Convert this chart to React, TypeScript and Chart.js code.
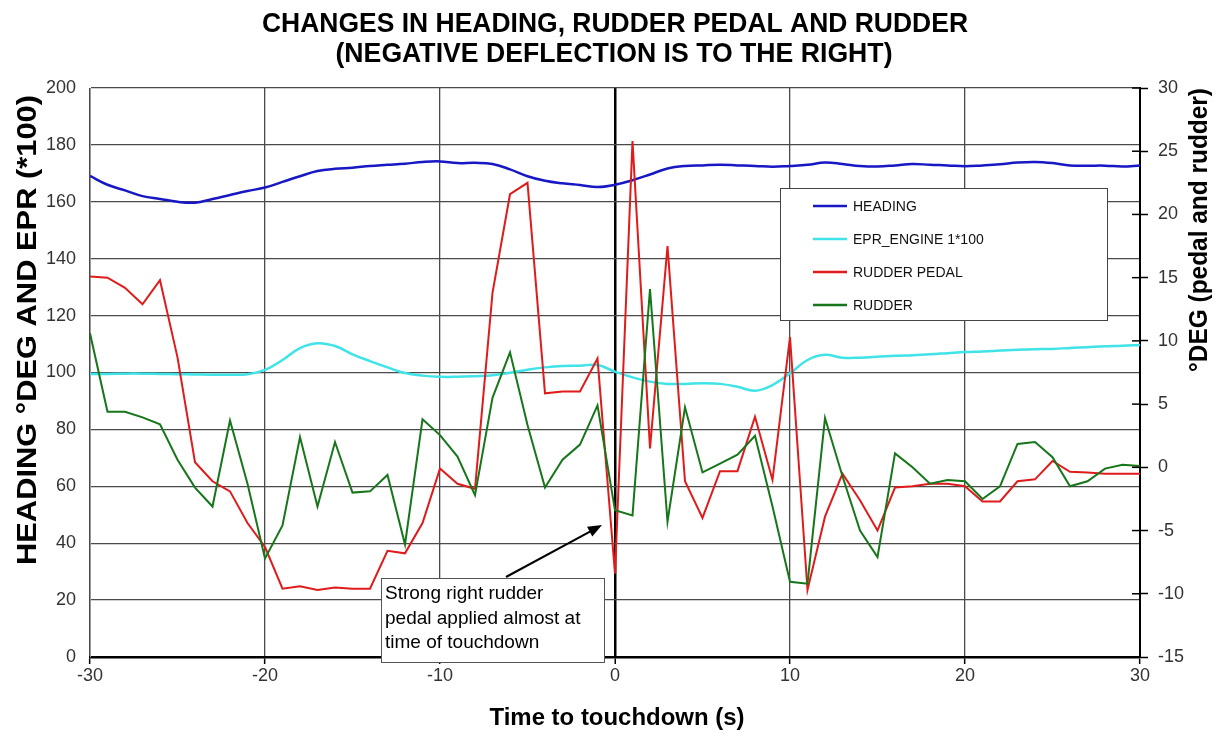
import { useEffect, useRef } from "react";
import { Chart, registerables } from "chart.js";

Chart.register(...registerables);

const seconds = [
  -30, -29, -28, -27, -26, -25, -24, -23, -22, -21, -20, -19, -18, -17, -16, -15,
  -14, -13, -12, -11, -10, -9, -8, -7, -6, -5, -4, -3, -2, -1, 0, 1, 2, 3, 4, 5,
  6, 7, 8, 9, 10, 11, 12, 13, 14, 15, 16, 17, 18, 19, 20, 21, 22, 23, 24, 25, 26,
  27, 28, 29, 30,
];

const heading = [
  169.1, 166, 164, 162, 161, 160, 159.7, 161, 162.4, 163.8, 165, 167, 169, 170.8,
  171.6, 172, 172.6, 173, 173.4, 174, 174.2, 173.6, 173.7, 173.3, 171.4, 169,
  167.4, 166.5, 165.9, 165.2, 166, 167.6, 169.6, 171.7, 172.6, 172.8, 173, 172.8,
  172.6, 172.3, 172.6, 173, 173.8, 173.3, 172.6, 172.4, 172.8, 173.3, 173, 172.8,
  172.5, 172.8, 173.2, 173.8, 174, 173.6, 172.8, 172.7, 172.7, 172.4, 172.8,
];

const eprEngine1 = [
  99.5, 99.5, 99.6, 99.6, 99.5, 99.4, 99.3, 99.2, 99.2, 99.4, 100.9, 104.4, 108.6,
  110.3, 109.3, 106.4, 104, 101.8, 99.8, 98.9, 98.5, 98.5, 98.7, 99, 99.9, 101,
  101.8, 102.3, 102.4, 102.6, 100.3, 98.3, 96.8, 96, 96, 96.2, 96, 95, 93.6, 95.6,
  99.7, 104.4, 106.2, 105.2, 105.2, 105.5, 105.9, 106.1, 106.4, 106.8, 107.2,
  107.4, 107.7, 108, 108.2, 108.3, 108.6, 108.9, 109.2, 109.4, 109.7,
];

const rudderPedal = [
  15.1, 15.0, 14.2, 12.9, 14.8, 8.7, 0.4, -1.1, -1.9, -4.4, -6.3, -9.6, -9.4, -9.7,
  -9.5, -9.6, -9.6, -6.6, -6.8, -4.4, -0.1, -1.3, -1.7, 13.8, 21.6, 22.5, 5.85,
  6.0, 6.0, 8.6, -8.4, 25.8, 1.5, 17.5, -1.1, -4.0, -0.3, -0.3, 4.0, -1.0, 10.3,
  -9.7, -3.9, -0.5, -2.6, -5.0, -1.6, -1.5, -1.3, -1.3, -1.5, -2.7, -2.7, -1.1,
  -0.95, 0.5, -0.35, -0.4, -0.5, -0.5, -0.5,
];

const rudder = [
  10.6, 4.4, 4.4, 3.95, 3.4, 0.6, -1.6, -3.1, 3.7, -1.3, -7.2, -4.6, 2.4, -3.1,
  2.0, -2.0, -1.9, -0.6, -6.1, 3.8, 2.55, 0.85, -2.2, 5.5, 9.1, 3.35, -1.6, 0.6,
  1.8, 4.9, -3.4, -3.8, 14.1, -4.3, 4.75, -0.4, 0.3, 1.0, 2.5, -3.1, -9.05, -9.2,
  3.9, -0.7, -5.0, -7.1, 1.1, 0, -1.3, -1.0, -1.1, -2.5, -1.5, 1.85, 2.0, 0.8,
  -1.5, -1.1, -0.1, 0.2, 0.1,
];

const seriesLabels = ["HEADING", "EPR_ENGINE 1*100", "RUDDER PEDAL", "RUDDER"];
const seriesColors = ["#1717C4", "#3FE3E8", "#E01B1B", "#16761A"];

const titleLines = [
  "CHANGES IN HEADING, RUDDER PEDAL AND RUDDER",
  "(NEGATIVE DEFLECTION IS TO THE RIGHT)",
];
const xAxisTitle = "Time to touchdown (s)";
const yLeftTitle = "HEADING \u00B0DEG AND EPR (*100)";
const yRightTitle = "\u00B0DEG (pedal and rudder)";
const noteLines = ["Strong right rudder", "pedal applied almost at", "time of touchdown"];

const FONT = "'Liberation Sans', Arial, Helvetica, sans-serif";

function fittedText(
  ctx: CanvasRenderingContext2D,
  text: string,
  cx: number,
  cy: number,
  width: number,
  font: string,
  rotation: number
) {
  ctx.save();
  ctx.translate(cx, cy);
  ctx.rotate(rotation);
  ctx.font = font;
  const w = ctx.measureText(text).width;
  ctx.scale(width / w, 1);
  ctx.textAlign = "center";
  ctx.textBaseline = "middle";
  ctx.fillStyle = "#000";
  ctx.fillText(text, 0, 0);
  ctx.restore();
}

const decorPlugin = {
  id: "decor",
  afterDraw(chart: any) {
    const ctx: CanvasRenderingContext2D = chart.ctx;
    const area = chart.chartArea;
    const y2 = chart.scales.y2;

    // inner half of right-axis ticks
    ctx.save();
    ctx.strokeStyle = "#000";
    ctx.lineWidth = 1.5;
    y2.ticks.forEach((t: any) => {
      const py = y2.getPixelForValue(t.value);
      ctx.beginPath();
      ctx.moveTo(area.right - 8, py);
      ctx.lineTo(area.right, py);
      ctx.stroke();
    });
    ctx.restore();

    // titles
    fittedText(ctx, titleLines[0], 615, 24, 706, `bold 28px ${FONT}`, 0);
    fittedText(ctx, titleLines[1], 614, 54, 557, `bold 28px ${FONT}`, 0);
    fittedText(ctx, xAxisTitle, 617, 718, 255, `bold 24px ${FONT}`, 0);
    fittedText(ctx, yLeftTitle, 29, 330, 470, `bold 27px ${FONT}`, -Math.PI / 2);
    fittedText(ctx, yRightTitle, 1200, 230, 284, `bold 25px ${FONT}`, -Math.PI / 2);

    // legend
    ctx.save();
    ctx.fillStyle = "#fff";
    ctx.fillRect(780, 188, 327, 132);
    ctx.strokeStyle = "#444";
    ctx.lineWidth = 1;
    ctx.strokeRect(780.5, 188.5, 327, 132);
    ctx.font = `14px ${FONT}`;
    ctx.textBaseline = "middle";
    ctx.textAlign = "left";
    const rows = [206, 239, 272, 305];
    chart.data.datasets.forEach((ds: any, i: number) => {
      ctx.strokeStyle = ds.borderColor;
      ctx.lineWidth = 2.5;
      ctx.beginPath();
      ctx.moveTo(813, rows[i]);
      ctx.lineTo(847, rows[i]);
      ctx.stroke();
      ctx.fillStyle = "#111";
      ctx.fillText(ds.label, 853, rows[i] + 1);
    });
    ctx.restore();

    // annotation
    ctx.save();
    ctx.fillStyle = "#fff";
    ctx.fillRect(381, 578, 223, 84);
    ctx.strokeStyle = "#555";
    ctx.lineWidth = 1;
    ctx.strokeRect(381.5, 578.5, 223, 84);
    ctx.fillStyle = "#000";
    ctx.font = `19px ${FONT}`;
    ctx.textAlign = "left";
    ctx.textBaseline = "middle";
    noteLines.forEach((l, i) => ctx.fillText(l, 385, 594 + i * 24.5));
    // arrow
    const sx = 506, sy = 577, ex = 602, ey = 525;
    const ang = Math.atan2(ey - sy, ex - sx);
    ctx.strokeStyle = "#000";
    ctx.lineWidth = 2;
    ctx.beginPath();
    ctx.moveTo(sx, sy);
    ctx.lineTo(ex - 10 * Math.cos(ang), ey - 10 * Math.sin(ang));
    ctx.stroke();
    ctx.beginPath();
    ctx.moveTo(ex, ey);
    ctx.lineTo(ex - 14 * Math.cos(ang) + 5.5 * Math.sin(ang), ey - 14 * Math.sin(ang) - 5.5 * Math.cos(ang));
    ctx.lineTo(ex - 14 * Math.cos(ang) - 5.5 * Math.sin(ang), ey - 14 * Math.sin(ang) + 5.5 * Math.cos(ang));
    ctx.closePath();
    ctx.fill();
    ctx.restore();
  },
};

export default function App() {
  const ref = useRef<HTMLCanvasElement>(null);

  useEffect(() => {
    if (!ref.current) return;
    const pts = (arr: number[]) => seconds.map((x, i) => ({ x, y: arr[i] }));
    const chart = new Chart(ref.current, {
      type: "line",
      data: {
        datasets: [
          { label: seriesLabels[0], data: pts(heading), borderColor: seriesColors[0], borderWidth: 2.5, pointRadius: 0, tension: 0.4, yAxisID: "y", order: 4 },
          { label: seriesLabels[1], data: pts(eprEngine1), borderColor: seriesColors[1], borderWidth: 2.5, pointRadius: 0, tension: 0.4, yAxisID: "y", order: 3 },
          { label: seriesLabels[2], data: pts(rudderPedal), borderColor: seriesColors[2], borderWidth: 2, pointRadius: 0, tension: 0, yAxisID: "y2", order: 2 },
          { label: seriesLabels[3], data: pts(rudder), borderColor: seriesColors[3], borderWidth: 2, pointRadius: 0, tension: 0, yAxisID: "y2", order: 1 },
        ],
      },
      options: {
        responsive: false,
        animation: false,
        devicePixelRatio: 1,
        layout: { padding: { top: 88, left: 0, right: 0, bottom: 0 } },
        plugins: { legend: { display: false }, tooltip: { enabled: false }, title: { display: false } },
        scales: {
          x: {
            type: "linear",
            min: -30,
            max: 30,
            position: "bottom",
            afterFit: (s: any) => { s.height = 79; },
            ticks: { stepSize: 10, font: { size: 18, family: FONT }, color: "#333", padding: 1 },
            grid: {
              color: (c: any) => (c.tick && c.tick.value === 0 ? "#000" : "#4a4a4a"),
              lineWidth: (c: any) => (c.tick && c.tick.value === 0 ? 2.5 : 1.3),
              tickLength: 7,
              tickColor: "#000",
              tickWidth: 1.5,
            },
            border: { color: "#000", width: 2.5 },
          },
          y: {
            position: "left",
            min: 0,
            max: 200,
            afterFit: (s: any) => { s.width = 90; },
            ticks: { stepSize: 20, font: { size: 18, family: FONT }, color: "#333", padding: 14 },
            grid: { color: "#4a4a4a", lineWidth: 1.3, drawTicks: false },
            border: { color: "#999", width: 1 },
          },
          y2: {
            position: "right",
            min: -15,
            max: 30,
            afterFit: (s: any) => { s.width = 83; },
            ticks: { stepSize: 5, font: { size: 18, family: FONT }, color: "#333", padding: 10 },
            grid: { drawOnChartArea: false, tickLength: 8, tickColor: "#000", tickWidth: 1.5 },
            border: { color: "#000", width: 2 },
          },
        },
      },
      plugins: [decorPlugin],
    });
    return () => chart.destroy();
  }, []);

  return (
    <div style={{ position: "absolute", left: 0, top: 0, width: 1223, height: 736, background: "#fff" }}>
      <canvas ref={ref} width={1223} height={736} />
    </div>
  );
}
